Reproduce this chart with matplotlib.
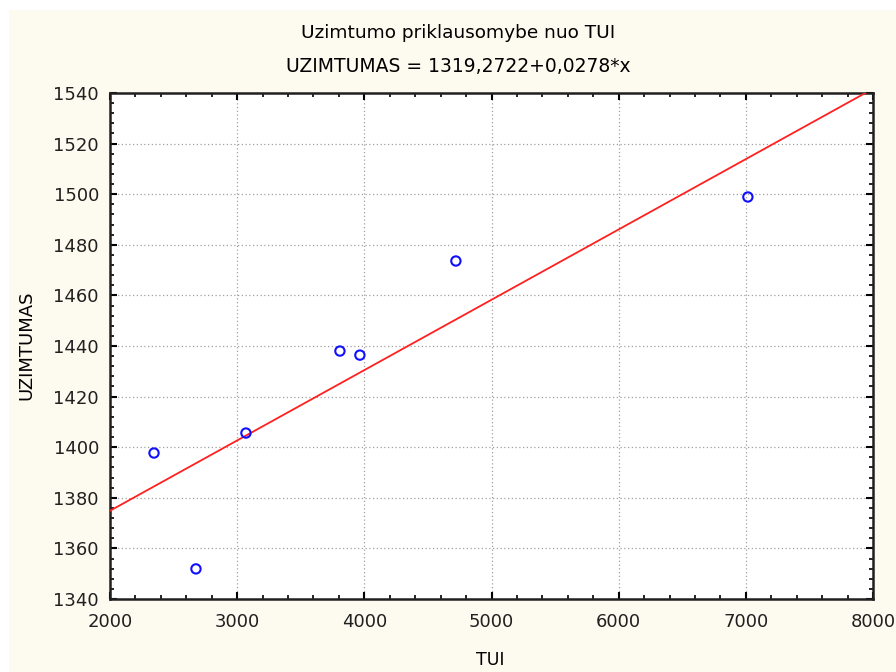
import matplotlib
matplotlib.use("Agg")
import matplotlib.pyplot as plt
import numpy as np
from matplotlib.patches import Rectangle
from matplotlib.ticker import MultipleLocator, AutoMinorLocator

tui = [2346, 2676, 3069, 3808, 3965, 4720, 7016]
uzimtumas = [1397.7, 1351.9, 1405.6, 1438.0, 1436.4, 1473.6, 1498.9]
intercept = 1319.2722
slope = 0.0278

plt.rcParams['font.family'] = ['DejaVu Sans']

fig = plt.figure(figsize=(8.96, 6.72), dpi=100)
fig.patch.set_facecolor('white')
fig.patches.append(Rectangle((9/896, 0), 1 - 9/896, 1 - 10/672, transform=fig.transFigure,
                             facecolor='#FDFAEF', edgecolor='none', zorder=-10))

ax = fig.add_axes([110/896, 1 - 599/672, (873-110)/896, (599-93)/672])
ax.set_facecolor('white')

xl = np.array([2000, 8000])
ax.plot(xl, intercept + slope * xl, color='#FF2020', lw=1.3, zorder=3)
ax.scatter(tui, uzimtumas, s=45, facecolors='none', edgecolors='#1010FF', linewidths=1.5, zorder=4)

ax.set_xlim(2000, 8000)
ax.set_ylim(1340, 1540)
ax.xaxis.set_major_locator(MultipleLocator(1000))
ax.yaxis.set_major_locator(MultipleLocator(20))
ax.xaxis.set_minor_locator(AutoMinorLocator(5))
ax.yaxis.set_minor_locator(AutoMinorLocator(5))
ax.tick_params(which='both', direction='in', top=True, right=True, colors='black')
ax.tick_params(which='major', length=5, width=1.5, labelsize=13)
ax.tick_params(axis='x', which='major', pad=10)
ax.tick_params(axis='y', which='major', pad=8)
ax.tick_params(which='minor', length=3, width=1.2)
for lab in ax.get_xticklabels() + ax.get_yticklabels():
    lab.set_color('#202020')
ax.grid(True, which='major', linestyle=(0, (1, 2)), color='#A0A0A0', lw=0.9)
for s in ax.spines.values():
    s.set_linewidth(1.8)
    s.set_color('#202020')

fig.text(458/896, 1 - 33/672, 'Uzimtumo priklausomybe nuo TUI', ha='center', va='center', fontsize=13.3)
fig.text(458/896, 1 - 66/672, 'UZIMTUMAS = 1319,2722+0,0278*x', ha='center', va='center', fontsize=13.5)
fig.text(490/896, 1 - 660/672, 'TUI', ha='center', va='center', fontsize=12.5)
fig.text(26/896, 1 - 345/672, 'UZIMTUMAS', ha='center', va='center', rotation=90, fontsize=13)

fig.savefig('out.png', dpi=100, facecolor=fig.get_facecolor())
